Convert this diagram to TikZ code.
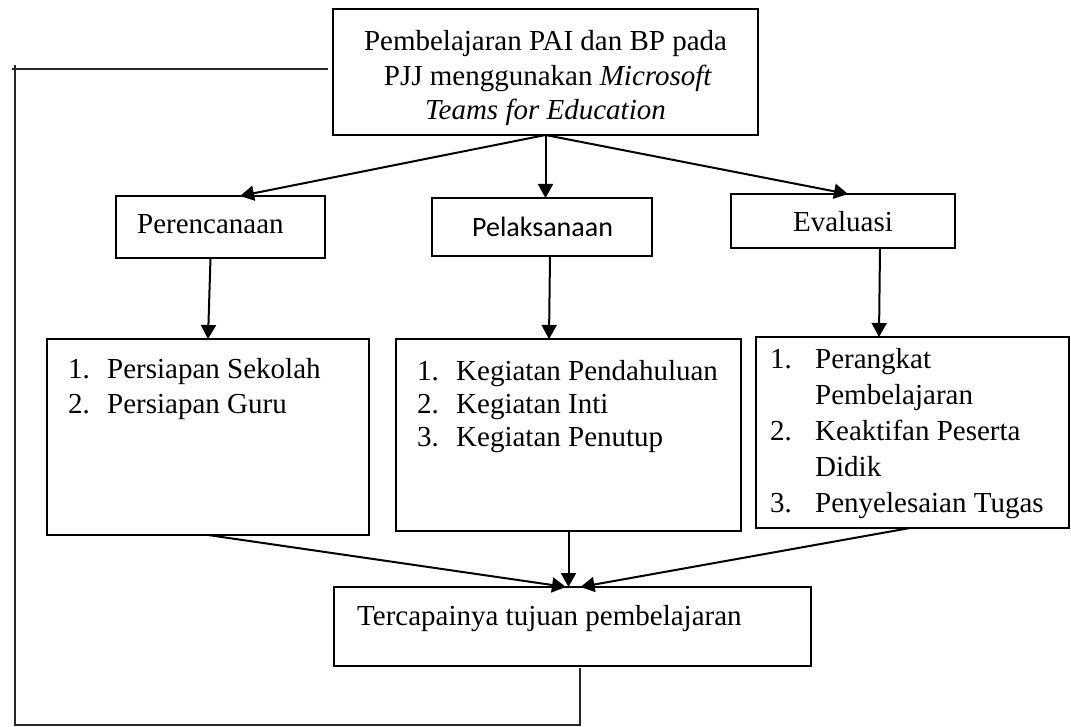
\documentclass[tikz,border=0pt]{standalone}
\usepackage{fontspec}
\setmainfont{Liberation Serif}
\newfontfamily\calfont{Carlito}
\usetikzlibrary{arrows.meta}
\begin{document}
\begin{tikzpicture}[x=1pt,y=-1pt,
  box/.style={draw, line width=1.8pt, inner sep=0pt, outer sep=0pt},
  arr/.style={line width=2pt, -{Triangle[width=15pt,length=14pt]}},
  looppath/.style={line width=1.4pt, black!85},
  lbl/.style={anchor=base west, inner sep=0pt, font=\fontsize{29}{35}\selectfont},
  ctr/.style={anchor=base, inner sep=0pt, font=\fontsize{29}{35}\selectfont}]
\fill[white] (0,0) rectangle (1071,727);
\useasboundingbox (0,0) rectangle (1071,727);
% top box
\node[box, minimum width=425pt, minimum height=126pt] (tb) at (545.5,72) {};
\node[ctr] (tb1) at (545.5,51) {Pembelajaran PAI dan BP pada};
\node[ctr] (tb2) at (548,85.5) {PJJ menggunakan \textit{Microsoft}};
\node[ctr] (tb3) at (545.5,120) {\textit{Teams for Education}};
% second row
\node[box, minimum width=209pt, minimum height=62pt] (p1) at (220.5,227) {};
\node[lbl] (p1t) at (137,234) {Perencanaan};
\node[box, minimum width=220pt, minimum height=58pt] (p2) at (542,227) {};
\node[lbl, font=\calfont\fontsize{28}{34}\selectfont] (p2t) at (472,237) {Pelaksanaan};
\node[box, minimum width=224pt, minimum height=54pt] (p3) at (843,221) {};
\node[ctr] (p3t) at (843,232) {Evaluasi};
% third row
\node[box, minimum width=322pt, minimum height=196pt] (b1) at (208,437) {};
\node[lbl] (b1n1) at (68,378) {1.};
\node[lbl] (b1l1) at (107,378) {Persiapan Sekolah};
\node[lbl] (b1n2) at (68,413) {2.};
\node[lbl] (b1l2) at (107,413) {Persiapan Guru};
\node[box, minimum width=345pt, minimum height=192pt] (b2) at (568.5,435) {};
\node[lbl] (b2n1) at (417,380) {1.};
\node[lbl] (b2l1) at (456,380) {Kegiatan Pendahuluan};
\node[lbl] (b2n2) at (417,413) {2.};
\node[lbl] (b2l2) at (456,413) {Kegiatan Inti};
\node[lbl] (b2n3) at (417,446) {3.};
\node[lbl] (b2l3) at (456,446) {Kegiatan Penutup};
\node[box, minimum width=313pt, minimum height=191pt] (b3) at (912.5,432.5) {};
\node[lbl] (b3n1) at (770,368) {1.};
\node[lbl] (b3l1) at (815,368) {Perangkat};
\node[lbl] (b3l1b) at (815,404) {Pembelajaran};
\node[lbl] (b3n2) at (770,440) {2.};
\node[lbl] (b3l2) at (815,440) {Keaktifan Peserta};
\node[lbl] (b3l2b) at (815,476) {Didik};
\node[lbl] (b3n3) at (770,512) {3.};
\node[lbl] (b3l3) at (815,512) {Penyelesaian Tugas};
% bottom box
\node[box, minimum width=477pt, minimum height=79pt] (bb) at (572.5,626.5) {};
\node[lbl] (bbt) at (357,625) {Tercapainya tujuan pembelajaran};
% arrows
\draw[arr] (tb.south) -- ([xshift=19.5pt]p1.north);
\draw[arr] (tb.south) -- (tb.south |- p2.north);
\draw[arr] (tb.south) -- ([xshift=5pt]p3.north);
\draw[arr] ([xshift=-10pt]p1.south) -- (b1.north);
\draw[arr] ([xshift=8pt]p2.south) -- ([xshift=-19.5pt]b2.north);
\draw[arr] ([xshift=37pt]p3.south) -- ([xshift=-33.5pt]b3.north);
\draw[arr] (b1.south) -- ([xshift=-6.5pt]bb.north);
\draw[arr] (b2.south) -- (b2.south |- bb.north);
\draw[arr] ([xshift=-2.5pt]b3.south) -- ([xshift=8pt]bb.north);
% feedback line
\coordinate (c1) at (12,69);
\coordinate (c2) at (15,65);
\coordinate (c3) at (15,725);
\coordinate (c4) at (580,725);
\draw[looppath] ([shift={(-5,-3)}]tb.west) -- (c1);
\draw[looppath] (c2) -- (c3) -- (c4) -- ([shift={(7.5,2)}]bb.south);
\end{tikzpicture}
\end{document}
